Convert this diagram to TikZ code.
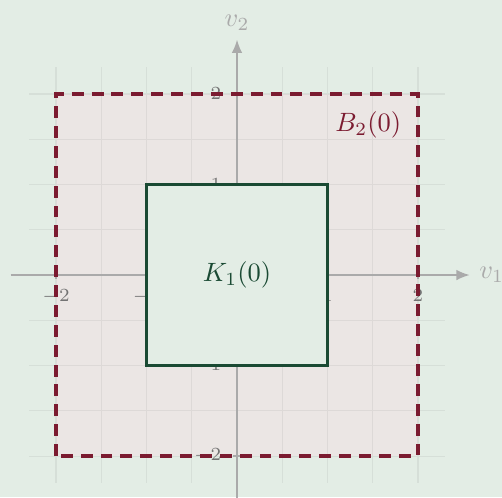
\documentclass[tikz,border=0pt]{standalone}
\usepackage{amsmath}
\usepackage{tikz}
\usepackage{xcolor}
\usetikzlibrary{arrows.meta,positioning,calc}

\definecolor{bgcol}{HTML}{E3EDE5}
\definecolor{ballfill}{HTML}{EBE6E4}
\definecolor{ballcol}{HTML}{7B1B30}
\definecolor{cubecol}{HTML}{1A4A33}
\definecolor{axiscol}{HTML}{AAAAAA}

\begin{document}
\begin{tikzpicture}[scale=1.2,
    axis/.style={axiscol, line width=0.6pt, -{Latex[length=5pt,width=4pt]}},
    ticklabel/.style={font=\scriptsize, text=black!55, inner sep=1pt},
    ball/.style={ballcol, line width=1.5pt, dash pattern=on 4.5pt off 3pt},
    cube/.style={cubecol, line width=1.4pt, fill=bgcol}]
    % Background
    \fill[bgcol] (-2.619,-2.453) rectangle (2.928,3.039);
    \useasboundingbox (-2.619,-2.453) rectangle (2.928,3.039);

    % Ball fill
    \fill[ballfill] (-2,-2) rectangle (2,2);

    % Grid
    \draw[gray, opacity=0.12, step=0.5] (-2.3,-2.3) grid (2.3,2.3);

    % Axes
    \coordinate (xstart) at (-2.5,0);
    \coordinate (xend) at (2.57,0);
    \coordinate (ystart) at (0,-2.6);
    \coordinate (yend) at (0,2.6);
    \draw[axis] (xstart) -- (xend) node[right, text=axiscol] (v1) {$v_1$};
    \draw[axis] (ystart) -- (yend) node[above, text=axiscol] (v2) {$v_2$};

    % Ticks
    \foreach \t in {-2,-1,1,2} {
        \draw[axiscol, line width=0.6pt] (\t,-0.04) -- (\t,0.04);
        \draw[axiscol, line width=0.6pt] (-0.04,\t) -- (0.04,\t);
        \node[ticklabel, anchor=north] (xt\t) at (\t,-0.12) {$\t$};
        \node[ticklabel, anchor=east] (yt\t) at (-0.14,\t) {$\t$};
    }

    % B_2(0) boundary
    \draw[ball] (-2,-2) rectangle (2,2);
    \node[text=ballcol] (balllabel) at (1.45,1.66) {$B_2(0)$};

    % K_1(0)
    \draw[cube] (-1,-1) rectangle (1,1);
    \node[text=cubecol] (cubelabel) at (0,0) {$K_1(0)$};
\end{tikzpicture}
\end{document}
